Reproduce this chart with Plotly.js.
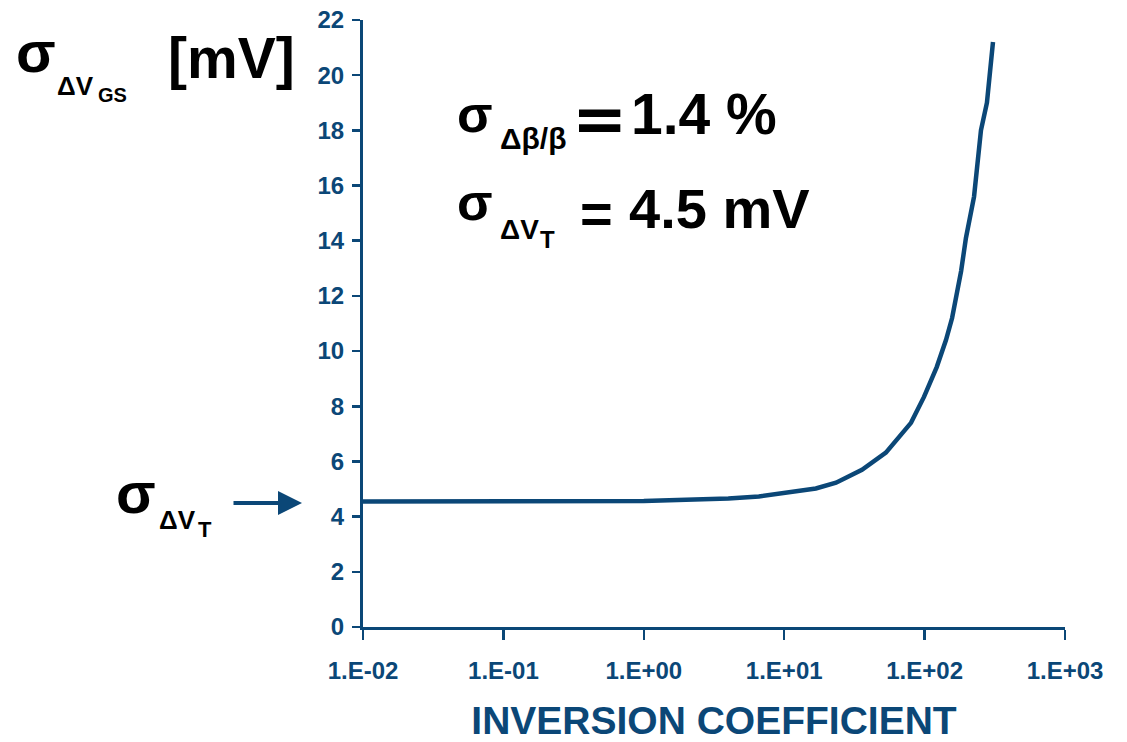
<!DOCTYPE html>
<html>
<head>
<meta charset="utf-8">
<script src="https://cdn.plot.ly/plotly-3.0.1.min.js"></script>
<style>html,body{margin:0;padding:0;background:#fff}#chart{width:1127px;height:742px}</style>
</head>
<body>
<div id="chart"></div>
<script>
// Inversion coefficient (log scale) and sigma(dVGS) in mV
const inversionCoeff = [0.01, 0.03, 0.1, 0.3, 0.7, 1, 2, 3, 4, 6.6, 10.8, 16.8, 23.4, 35.8, 53, 66, 80, 99, 122, 142, 157, 182, 197, 225, 236, 252, 278, 307];
const sigmaVGS = [4.55, 4.55, 4.55, 4.55, 4.55, 4.57, 4.61, 4.63, 4.66, 4.73, 4.87, 5.02, 5.23, 5.70, 6.32, 6.9, 7.4, 8.34, 9.42, 10.4, 11.2, 12.9, 14.1, 15.6, 16.8, 18.0, 19.0, 21.2];
const xTickVals = [0.01, 0.1, 1, 10, 100, 1000];
const xTickText = ["1.E-02", "1.E-01", "1.E+00", "1.E+01", "1.E+02", "1.E+03"];

const BLUE = "#0b4777";
const FONT = "Liberation Sans, Arial, sans-serif";
const W = 1127, H = 742;
const M = {l: 363, r: 62, t: 20, b: 115};
const pw = W - M.l - M.r, ph = H - M.t - M.b;
const px = x => (x - M.l) / pw;
const py = y => (H - M.b - y) / ph;

function txt(text, x, y, size, opts) {
  opts = opts || {};
  return {
    text: text, xref: "paper", yref: "paper", x: px(x), y: py(y),
    xanchor: "left", yanchor: "middle", showarrow: false,
    font: {family: opts.family || FONT, size: size, color: opts.color || "#000", weight: "bold"}
  };
}

const annotations = [
  // top-left axis label
  txt("σ", 14, 52, 58),
  txt("ΔV", 55, 86, 26),
  txt("GS", 96, 95, 20),
  txt("[mV]", 166, 58, 57),
  // formula line 1
  txt("σ", 455, 114, 52),
  txt("Δβ/β", 498, 138, 30),
  txt("=", 570, 120, 66, {family: "DejaVu Sans, sans-serif"}),
  txt("1.4 %", 629, 114, 57),
  // formula line 2
  txt("σ", 455, 202, 52),
  txt("ΔV", 498, 229, 28),
  txt("T", 538, 239, 24),
  txt("=", 578, 214, 56),
  txt("4.5 mV", 627, 208, 56),
  // lower-left marker
  txt("σ", 114, 492, 58),
  txt("ΔV", 157, 520, 26),
  txt("T", 196, 529, 22),
  {
    xref: "paper", yref: "paper", x: px(302), y: py(503), text: "",
    showarrow: true, ax: -70, ay: 0, arrowhead: 2, arrowsize: 1.2, arrowwidth: 4,
    arrowcolor: BLUE, standoff: 0
  }
];

const trace = {
  x: inversionCoeff, y: sigmaVGS, type: "scatter", mode: "lines",
  line: {color: BLUE, width: 4.5}, hoverinfo: "skip"
};

const layout = {
  width: W, height: H,
  margin: M,
  paper_bgcolor: "#fff", plot_bgcolor: "#fff",
  showlegend: false,
  xaxis: {
    type: "log", range: [-2, 3],
    tickvals: xTickVals, ticktext: xTickText,
    ticks: "outside", ticklen: 10, tickwidth: 2.5, tickcolor: BLUE,
    ticklabelstandoff: 10,
    showline: true, linecolor: BLUE, linewidth: 3,
    showgrid: false, zeroline: false,
    tickfont: {family: FONT, size: 24, color: BLUE, weight: "bold"},
    title: {text: "INVERSION COEFFICIENT", standoff: 34,
            font: {family: FONT, size: 39, color: BLUE, weight: "bold"}}
  },
  yaxis: {
    range: [0, 22], dtick: 2, tick0: 0,
    ticks: "outside", ticklen: 8, tickwidth: 2.5, tickcolor: BLUE,
    ticklabelstandoff: 3,
    showline: true, linecolor: BLUE, linewidth: 3,
    showgrid: false, zeroline: false,
    tickfont: {family: FONT, size: 24, color: BLUE, weight: "bold"}
  },
  annotations: annotations
};

Plotly.newPlot("chart", [trace], layout, {displayModeBar: false, staticPlot: true});
</script>
</body>
</html>
